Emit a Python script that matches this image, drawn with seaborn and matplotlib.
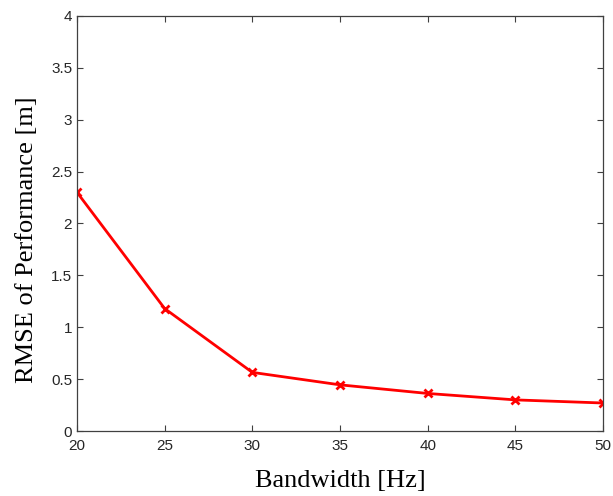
import matplotlib
matplotlib.use("Agg")
import matplotlib.pyplot as plt
import seaborn as sns
import pandas as pd

bandwidth = [20, 25, 30, 35, 40, 45, 50]
rmse = [2.30, 1.18, 0.565, 0.445, 0.362, 0.30, 0.27]
x_ticks = [20, 25, 30, 35, 40, 45, 50]
y_ticks = [0, 0.5, 1, 1.5, 2, 2.5, 3, 3.5, 4]
y_tick_labels = ["0", "0.5", "1", "1.5", "2", "2.5", "3", "3.5", "4"]

sns.set_style("white")
plt.rcParams['font.family'] = ['Liberation Sans', 'DejaVu Sans']

df = pd.DataFrame({"Bandwidth": bandwidth, "RMSE": rmse})

fig = plt.figure(figsize=(6.13, 4.96), dpi=100)
ax = fig.add_axes([0.1256, 0.131, 0.858, 0.837])
sns.lineplot(data=df, x="Bandwidth", y="RMSE", ax=ax, color="#ff0000",
             linewidth=2.0, marker="x", markersize=6, markeredgewidth=2.0,
             markeredgecolor="#ff0000")

ax.set_xlim(20, 50)
ax.set_ylim(0, 4)
ax.set_xticks(x_ticks)
ax.set_yticks(y_ticks)
ax.set_yticklabels(y_tick_labels)
ax.tick_params(direction="in", length=4, width=0.8, colors="#404040",
               labelsize=11, top=True, right=True, bottom=True, left=True,
               labeltop=False, labelright=False, labelcolor="#262626")
ax.tick_params(axis="x", pad=6)
for s in ax.spines.values():
    s.set_visible(True)
    s.set_color("#404040")
    s.set_linewidth(0.9)

ax.set_xlabel("Bandwidth [Hz]", fontsize=19, family="Liberation Serif", color="black", labelpad=12)
ax.set_ylabel("RMSE of Performance [m]", fontsize=19, family="Liberation Serif", color="black")
ax.yaxis.set_label_coords(-0.074, 0.46)

fig.savefig("out.png", dpi=100)
